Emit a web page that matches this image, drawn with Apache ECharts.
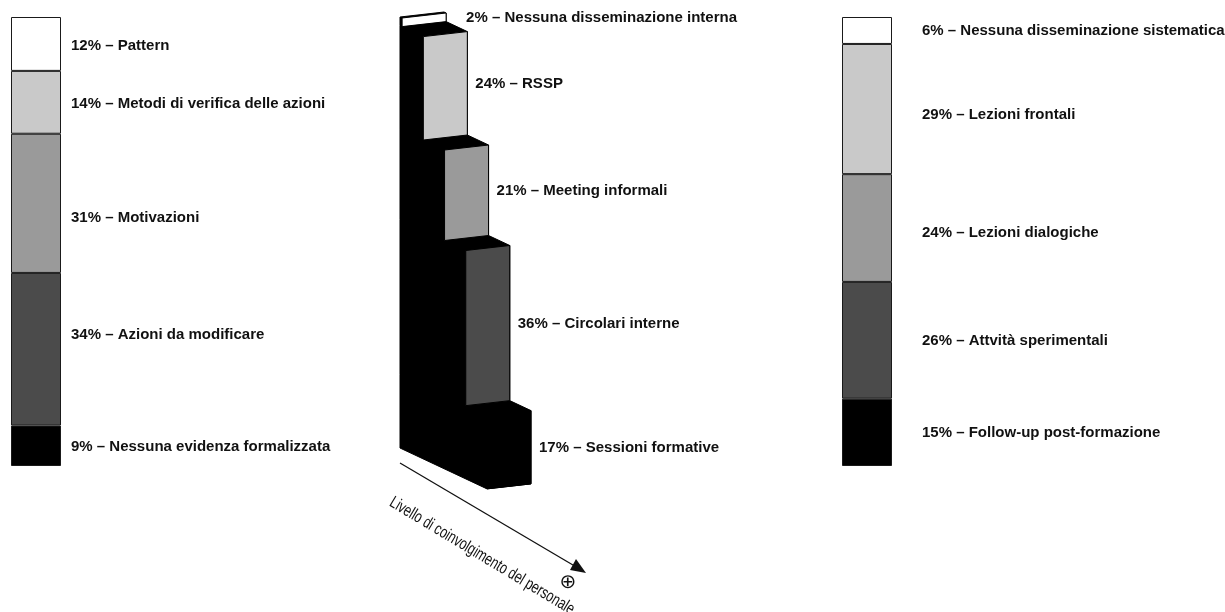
<!DOCTYPE html>
<html>
<head>
<meta charset="utf-8">
<title>Disseminazione e coinvolgimento del personale</title>
<script src="https://cdn.jsdelivr.net/npm/echarts@6/dist/echarts.min.js"></script>
<style>
  html, body { margin: 0; padding: 0; background: #ffffff; }
  #chart { width: 1225px; height: 612px; }
</style>
</head>
<body>
<div id="chart"></div>
<script>
// Left column: evidenze delle azioni
const leftNames = ['Pattern', 'Metodi di verifica delle azioni', 'Motivazioni', 'Azioni da modificare', 'Nessuna evidenza formalizzata'];
const leftValues = [12, 14, 31, 34, 9];

// Middle staircase: canali di disseminazione interna (ordered by involvement level)
const midNames = ['Nessuna disseminazione interna', 'RSSP', 'Meeting informali', 'Circolari interne', 'Sessioni formative'];
const midValues = [2, 24, 21, 36, 17];

// Right column: modalità formative
const rightNames = ['Nessuna disseminazione sistematica', 'Lezioni frontali', 'Lezioni dialogiche', 'Attvità sperimentali', 'Follow-up post-formazione'];
const rightValues = [6, 29, 24, 26, 15];

const shades = ['#ffffff', '#c9c9c9', '#9a9a9a', '#4b4b4b', '#000000'];
const axisTitle = 'Livello di coinvolgimento del personale';

const FONT = '"Liberation Sans", Arial, Helvetica, sans-serif';
const labelText = { color: '#111', fontSize: 15, fontWeight: 'bold', fontFamily: FONT };

// label nudges (px, vertical) for the two side columns
const leftLabelShift = [2, 2, 15, -14, 1];
const rightLabelShift = [0, 6, 5, 1, 1];

// oblique projection of the staircase
const FACE_W = 44;    // front face width in px
const FACE_RISE = 5;  // front face top edge rises to the right
const DEPTH_K = 0.47; // vertical drop per px of depth
const LEVEL_MIN = -0.1;

function stackedBars(names, values, stack, axisIdx, dist, shift) {
  return names.map((name, i) => ({
    type: 'bar',
    stack: stack,
    xAxisIndex: axisIdx,
    yAxisIndex: axisIdx,
    barWidth: '100%',
    silent: true,
    data: [values[i]],
    itemStyle: { color: shades[i], borderColor: '#1a1a1a', borderWidth: 1 },
    label: Object.assign({
      show: true,
      position: 'right',
      distance: dist,
      offset: [0, shift[i]],
      formatter: values[i] + '% \u2013 ' + name
    }, labelText)
  }));
}

// middle slabs: [level, stackStart, stackEnd, index]; drawn from the front-most (lowest) to the back
const midData = [];
let acc = 0;
const starts = midValues.map(v => { const s = acc; acc += v; return s; });
for (let i = midValues.length - 1; i >= 0; i--) {
  midData.push([i, starts[i], starts[i] + midValues[i], i]);
}

function renderSlab(params, api) {
  const level = api.value(0);
  const idx = api.value(3);
  const backX = api.coord([LEVEL_MIN, 0])[0];
  const frontX = api.coord([level, 0])[0];
  const yTop = api.coord([level, api.value(1)])[1];
  const yBot = api.coord([level, api.value(2)])[1];
  const D = frontX - backX;
  const P = (d, w, y) => [backX + d + w * FACE_W, y + d * DEPTH_K - w * FACE_RISE];

  const hull = [P(0, 0, yBot), P(0, 0, yTop), P(0, 1, yTop), P(D, 1, yTop), P(D, 1, yBot), P(D, 0, yBot)];
  const face = [P(D, 0, yTop), P(D, 1, yTop), P(D, 1, yBot), P(D, 0, yBot)];
  const rTop = P(D, 1, yTop), rBot = P(D, 1, yBot);
  const gap = idx === 0 ? 20 : 8;

  return {
    type: 'group',
    children: [
      { type: 'polygon', shape: { points: hull }, style: { fill: '#000', stroke: '#000', lineWidth: 1 } },
      { type: 'polygon', shape: { points: face }, style: { fill: shades[idx], stroke: '#000', lineWidth: 1 } },
      {
        type: 'text',
        style: {
          x: rTop[0] + gap,
          y: (rTop[1] + rBot[1]) / 2 + 1,
          text: midValues[idx] + '% \u2013 ' + midNames[idx],
          fill: '#111',
          font: 'bold 15px ' + FONT,
          verticalAlign: 'middle',
          align: 'left'
        }
      }
    ]
  };
}

const hiddenAxis = { show: false };

const option = {
  backgroundColor: '#ffffff',
  animation: false,
  grid: [
    { left: 11, top: 17, width: 50, height: 449 },
    { left: 400, top: 17, width: 87, height: 431 },
    { left: 842, top: 17, width: 50, height: 449 }
  ],
  xAxis: [
    Object.assign({ type: 'category', data: ['a'], gridIndex: 0 }, hiddenAxis),
    Object.assign({ type: 'value', min: LEVEL_MIN, max: midValues.length - 1, gridIndex: 1 }, hiddenAxis),
    Object.assign({ type: 'category', data: ['c'], gridIndex: 2 }, hiddenAxis)
  ],
  yAxis: [
    Object.assign({ type: 'value', min: 0, max: 100, inverse: true, gridIndex: 0 }, hiddenAxis),
    Object.assign({ type: 'value', min: 0, max: 100, inverse: true, gridIndex: 1 }, hiddenAxis),
    Object.assign({ type: 'value', min: 0, max: 100, inverse: true, gridIndex: 2 }, hiddenAxis)
  ],
  series: [
    ...stackedBars(leftNames, leftValues, 'left', 0, 10, leftLabelShift),
    {
      type: 'custom',
      xAxisIndex: 1,
      yAxisIndex: 1,
      silent: true,
      clip: false,
      renderItem: renderSlab,
      data: midData
    },
    ...stackedBars(rightNames, rightValues, 'right', 2, 30, rightLabelShift)
  ],
  graphic: [
    // involvement direction arrow
    {
      type: 'line',
      shape: { x1: 400, y1: 463, x2: 578, y2: 568 },
      style: { stroke: '#111', lineWidth: 1.3 }
    },
    {
      type: 'polygon',
      shape: { points: [[586, 573], [570, 570], [576, 559]] },
      style: { fill: '#111' }
    },
    {
      type: 'text',
      x: 482, y: 556,
      rotation: -31 * Math.PI / 180,
      scaleX: 0.73,
      style: {
        text: axisTitle,
        font: '17px ' + FONT,
        fill: '#111',
        align: 'center',
        verticalAlign: 'middle'
      }
    },
    {
      type: 'text',
      x: 568, y: 583,
      style: {
        text: '\u2295',
        font: '20px "DejaVu Sans", sans-serif',
        fill: '#111',
        align: 'center',
        verticalAlign: 'middle'
      }
    }
  ]
};

const chart = echarts.init(document.getElementById('chart'), null, { renderer: 'canvas' });
chart.setOption(option);
</script>
</body>
</html>
